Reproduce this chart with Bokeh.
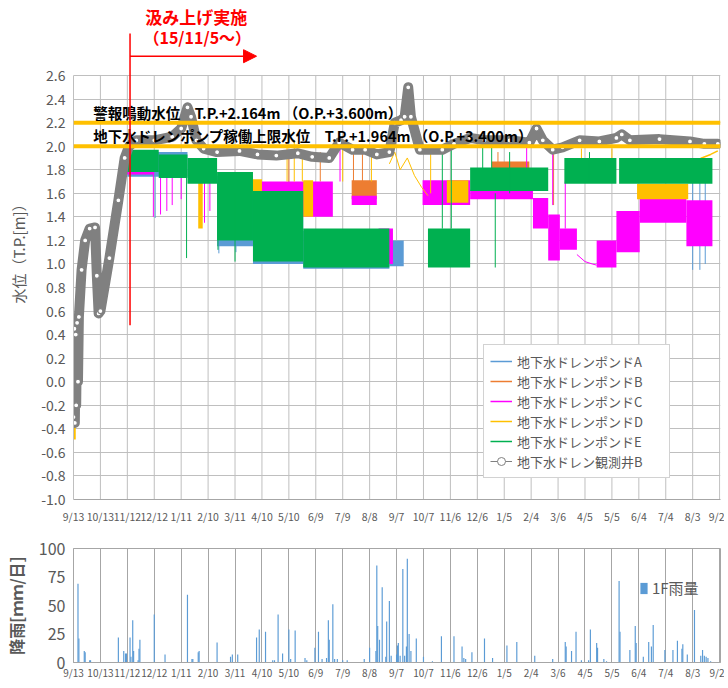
import numpy as np
from bokeh.plotting import figure
from bokeh.models import (Range1d, FixedTicker, Span, Legend, LegendItem, Arrow,
                          NormalHead, PrintfTickFormatter, Label)
from bokeh.layouts import column
from bokeh.embed import file_html
from bokeh.resources import INLINE

# ---------------- data ----------------
tick_days = list(range(0, 721, 30))
tick_labels = ["9/13", "10/13", "11/12", "12/12", "1/11", "2/10", "3/11", "4/10", "5/10",
               "6/9", "7/9", "8/8", "9/7", "10/7", "11/6", "12/6", "1/5", "2/4", "3/6",
               "4/5", "5/5", "6/4", "7/4", "8/3", "9/2"]
y_ticks = [-1.0, -0.8, -0.6, -0.4, -0.2, 0.0, 0.2, 0.4, 0.6, 0.8, 1.0, 1.2, 1.4, 1.6,
           1.8, 2.0, 2.2, 2.4, 2.6]
rain_ticks = [0, 25, 50, 75, 100]

series_names = ["地下水ドレンポンドA", "地下水ドレンポンドB", "地下水ドレンポンドC",
                "地下水ドレンポンドD", "地下水ドレンポンドE"]
well_name = "地下水ドレン観測井B"

# observation well B (days since 2015/9/13, T.P. m)
well_day = [0, 1, 1.5, 2.5, 3, 4, 5, 6, 9, 13,
            18, 24, 26, 28, 30, 40, 50, 57, 62, 70,
            90, 110, 120, 127, 131, 137, 145, 160, 185, 205,
            226, 250, 266, 285, 296, 311, 325, 338, 352, 358,
            365, 369, 373, 376, 386, 411, 424, 442, 458, 486,
            508, 516, 523, 534, 545, 564, 586, 605, 611, 620,
            653, 687, 703, 718]
well_val = [-0.3, 0.45, -0.35, 0.4, -0.2, 0.5, 0.0, 0.55, 0.95, 1.2,
            1.3, 1.31, 0.9, 0.58, 0.6, 1.05, 1.54, 1.9, 2.0, 2.05,
            2.05, 2.08, 2.15, 2.33, 2.25, 2.05, 1.98, 1.95, 1.96, 1.93,
            1.92, 1.94, 1.91, 1.9, 2.03, 1.97, 1.97, 1.93, 1.95, 2.2,
            2.22, 2.25, 2.5, 2.25, 1.97, 1.97, 2.02, 2.07, 2.05, 2.05,
            2.03, 2.15, 2.05, 1.97, 1.99, 2.05, 2.04, 2.07, 2.1, 2.05,
            2.06, 2.04, 2.02, 2.02]

# pump level bands (start day, end day, low, high)
A_start = [60, 160, 200, 256, 352]
A_end = [127, 200, 256, 352, 368]
A_low = [1.74, 1.15, 1.0, 0.96, 0.98]
A_high = [1.95, 1.75, 1.6, 1.28, 1.2]

B_start = [310, 466]
B_end = [338, 508]
B_low = [1.55, 1.77]
B_high = [1.71, 1.87]

C_start = [55, 208, 310, 340, 389, 442, 512, 529, 542, 583, 605, 631, 683]
C_end = [90, 289, 338, 356, 442, 512, 529, 542, 561, 605, 631, 683, 712]
C_low = [1.76, 1.4, 1.5, 1.0, 1.5, 1.55, 1.3, 1.03, 1.12, 0.97, 1.1, 1.35, 1.15]
C_high = [1.86, 1.7, 1.58, 1.3, 1.71, 1.63, 1.56, 1.42, 1.3, 1.2, 1.45, 1.57, 1.54]

D_start = [0, 139, 193, 256, 416, 628]
D_end = [2.5, 144, 210, 267, 440, 685]
D_low = [-0.49, 1.3, 1.6, 1.4, 1.52, 1.55]
D_high = [-0.3, 1.7, 1.72, 1.71, 1.71, 1.68]

E_start = [60, 95, 127, 160, 200, 256, 395, 442, 547, 608]
E_end = [95, 127, 160, 200, 256, 352, 442, 529, 605, 712]
E_low = [1.78, 1.73, 1.68, 1.2, 1.02, 0.97, 0.97, 1.62, 1.68, 1.68]
E_high = [1.97, 1.93, 1.9, 1.78, 1.62, 1.3, 1.3, 1.82, 1.9, 1.9]

# single readings (spikes)
A_spk_day = [91, 162, 181, 690, 698, 704]
A_spk_lo = [1.39, 1.09, 1.1, 0.95, 0.95, 1.0]
A_spk_hi = [1.8, 1.5, 1.5, 1.7, 1.7, 1.8]
B_spk_day = [240, 275, 312, 322, 473, 535]
B_spk_lo = [1.6, 1.7, 1.7, 1.7, 1.6, 1.5]
B_spk_hi = [1.95, 1.95, 1.98, 1.95, 1.95, 1.95]
C_spk_day = [89, 97, 104, 110, 120, 146, 152, 297, 505, 534, 548]
C_spk_lo = [1.4, 1.42, 1.45, 1.5, 1.55, 1.35, 1.45, 1.7, 1.6, 1.5, 1.3]
C_spk_hi = [1.85, 1.85, 1.85, 1.85, 1.85, 1.8, 1.8, 2.0, 2.0, 1.95, 1.7]
D_spk_day = [165, 238, 246, 255, 300, 332, 398, 566, 600]
D_spk_lo = [1.25, 1.7, 1.7, 1.7, 1.7, 1.7, 1.6, 1.7, 1.7]
D_spk_hi = [1.7, 2.0, 2.05, 1.95, 2.0, 1.95, 2.0, 1.98, 1.98]
E_spk_day = [126, 161, 180, 411, 421, 456, 466, 470, 486, 575]
E_spk_lo = [1.05, 1.12, 1.02, 1.3, 1.3, 1.8, 1.8, 0.97, 1.6, 1.7]
E_spk_hi = [1.85, 1.7, 1.6, 2.0, 2.0, 2.0, 2.0, 1.6, 1.95, 1.95]

# thin traces
C_line_day = [561, 570, 578, 583]
C_line_val = [1.08, 1.02, 1.0, 0.99]
D_line1_day = [352, 358, 364, 372, 380, 388, 395]
D_line1_val = [1.85, 1.95, 1.8, 1.9, 1.75, 1.65, 1.58]
D_line2_day = [690, 700, 710, 718]
D_line2_val = [1.85, 1.9, 1.93, 1.96]

thresholds = [2.2, 2.0]
pump_start_day = 63

# daily rainfall 1F (mm/day)
rain_day = [5, 6, 12, 13, 18, 19, 50, 56, 58, 59,
            63, 64, 66, 67, 72, 73, 74, 90, 102, 127,
            132, 133, 139, 140, 160, 175, 177, 183, 204, 207,
            214, 222, 224, 228, 233, 240, 242, 247, 258, 260,
            269, 273, 277, 282, 284, 285, 289, 291, 294, 300,
            305, 324, 330, 337, 338, 339, 341, 344, 348, 349,
            352, 354, 360, 361, 362, 364, 367, 369, 371, 372,
            374, 376, 382, 390, 400, 410, 424, 433, 435, 437,
            444, 458, 467, 483, 494, 514, 534, 548, 549, 555,
            560, 566, 574, 576, 583, 584, 591, 594, 608, 609,
            620, 626, 627, 635, 641, 644, 646, 659, 668, 673,
            678, 679, 684, 692, 699, 701, 703, 705, 707, 710]
rain_mm = [69, 21, 10, 9, 2, 2, 22, 10, 8, 8,
           22, 5, 37, 10, 2, 12, 20, 42, 7, 59.5,
           3, 3, 9, 10, 17.5, 5, 7, 7, 22, 29,
           27, 2, 2, 42, 8, 29, 3, 28, 4, 2,
           13, 27, 3, 4, 37, 20, 51, 3, 3, 2,
           2, 3, 13, 10, 85, 32, 20, 66, 5, 36,
           54, 6, 7, 15, 17, 6, 82, 6, 14, 91,
           25, 10, 21, 5, 1, 23, 23, 14, 4, 3,
           9, 21, 4, 15, 18, 6, 3, 18, 14, 10,
           27, 2, 2, 29, 17, 13, 3, 1, 71.5, 27,
           11, 32, 17, 5, 18, 14, 33, 11, 11, 19,
           12, 16, 7, 46, 6, 11, 6, 5, 4, 1]

# ---------------- styles ----------------
JP = "Noto Sans CJK JP"
TXT = "#595959"
GRID = "#BFBFBF"
AX = "#A6A6A6"
colors = ["#5B9BD5", "#ED7D31", "#FF00FF", "#FFC000", "#00B050"]
GRAY = "#808080"

# ---------------- main chart ----------------
p = figure(width=724, height=526, x_range=Range1d(0, 721), y_range=Range1d(-1.0, 3.237),
           output_backend="svg", toolbar_location=None,
           min_border_left=73, min_border_right=4, min_border_top=0, min_border_bottom=26)
p.outline_line_color = None
p.background_fill_color = "white"
p.border_fill_color = "white"

p.yaxis.ticker = FixedTicker(ticks=y_ticks)
p.yaxis.bounds = (-1.0, 2.6)
p.yaxis.formatter = PrintfTickFormatter(format="%.1f")
p.yaxis.major_label_text_font = JP
p.yaxis.major_label_text_font_size = "14px"
p.yaxis.major_label_text_color = TXT
p.yaxis.major_tick_line_color = None
p.yaxis.major_tick_out = 0
p.yaxis.major_tick_in = 0
p.yaxis.minor_tick_line_color = None
p.yaxis.minor_tick_out = 0
p.yaxis.major_label_standoff = 8
p.yaxis.axis_line_color = GRID
p.yaxis.axis_label = "水位（T.P.[m]）"
p.yaxis.axis_label_text_font = JP
p.yaxis.axis_label_text_font_style = "normal"
p.yaxis.axis_label_text_font_size = "15px"
p.yaxis.axis_label_text_color = TXT
p.yaxis.axis_label_standoff = 9

p.xaxis.ticker = FixedTicker(ticks=tick_days)
p.xaxis.major_label_overrides = {d: l for d, l in zip(tick_days, tick_labels)}
p.xaxis.major_label_text_font = JP
p.xaxis.major_label_text_font_size = "10.5px"
p.xaxis.major_label_text_color = TXT
p.xaxis.major_tick_line_color = None
p.xaxis.major_tick_out = 0
p.xaxis.major_tick_in = 0
p.xaxis.minor_tick_line_color = None
p.xaxis.minor_tick_out = 0
p.xaxis.major_label_standoff = 9
p.xaxis.axis_line_color = AX

p.ygrid.ticker = FixedTicker(ticks=y_ticks)
p.ygrid.grid_line_color = GRID
p.xgrid.visible = False
p.segment(x0=tick_days, y0=[y_ticks[0]] * len(tick_days), x1=tick_days,
          y1=[y_ticks[-1]] * len(tick_days), line_color=GRID, line_width=1)

bands = [(A_start, A_end, A_low, A_high), (B_start, B_end, B_low, B_high),
         (C_start, C_end, C_low, C_high), (D_start, D_end, D_low, D_high),
         (E_start, E_end, E_low, E_high)]
spikes = [(A_spk_day, A_spk_lo, A_spk_hi), (B_spk_day, B_spk_lo, B_spk_hi),
          (C_spk_day, C_spk_lo, C_spk_hi), (D_spk_day, D_spk_lo, D_spk_hi),
          (E_spk_day, E_spk_lo, E_spk_hi)]

for i, col in enumerate(colors):
    s, e, lo, hi = bands[i]
    p.quad(left=s, right=e, bottom=lo, top=hi, fill_color=col, line_color=None)
    sd, sl, sh = spikes[i]
    p.segment(x0=sd, y0=sl, x1=sd, y1=sh, line_color=col, line_width=1)
    if i == 2:
        p.line(C_line_day, C_line_val, line_color=col, line_width=1)
    if i == 3:
        p.line(D_line1_day, D_line1_val, line_color=col, line_width=1)
        p.line(D_line2_day, D_line2_val, line_color=col, line_width=1.5)

p.line(well_day, well_val, line_color=GRAY, line_width=10, line_join="round", line_cap="round")
p.scatter(well_day, well_val, marker="circle", size=5, fill_color="white",
          line_color=GRAY, line_width=1.2)

for t in thresholds:
    p.add_layout(Span(location=t, dimension="width", line_color="#FFC000", line_width=4))

p.add_layout(Label(x=22, y=2.286, text="警報鳴動水位　T.P.+2.164m （O.P.+3.600m）",
                   text_font=JP, text_font_style="bold", text_font_size="14.5px",
                   text_color="black", text_baseline="middle"))
p.add_layout(Label(x=22, y=2.092, text="地下水ドレンポンプ稼働上限水位　T.P.+1.964m （O.P.+3.400m）",
                   text_font=JP, text_font_style="bold", text_font_size="14.5px",
                   text_color="black", text_baseline="middle"))

# pumping start annotation
p.add_layout(Arrow(end=None, x_start=pump_start_day, y_start=0.48, x_end=pump_start_day,
                   y_end=2.956, line_color="red", line_width=1.5))
p.add_layout(Arrow(end=NormalHead(size=13, fill_color="red", line_color="red"),
                   x_start=pump_start_day, y_start=2.764, x_end=204, y_end=2.764,
                   line_color="red", line_width=1.5))
p.add_layout(Label(x=80, y=3.1, text="汲み上げ実施", text_font=JP, text_font_style="bold",
                   text_font_size="17px", text_color="red", text_baseline="middle"))
p.add_layout(Label(x=78, y=2.926, text="（15/11/5～）", text_font=JP, text_font_style="bold",
                   text_font_size="16px", text_color="red", text_baseline="middle"))

# legend (sample glyphs only)
items = []
for name, col in zip(series_names, colors):
    r = p.line(x=[np.nan], y=[np.nan], line_color=col, line_width=1.5)
    items.append(LegendItem(label=name, renderers=[r]))
rl = p.line(x=[np.nan], y=[np.nan], line_color=GRAY, line_width=1)
rs = p.scatter(x=[np.nan], y=[np.nan], marker="circle", size=6, fill_color="white",
               line_color=GRAY)
items.append(LegendItem(label=well_name, renderers=[rl, rs]))
leg = Legend(items=items, location=(410, 21), padding=6, margin=0, spacing=0,
             label_height=20, glyph_height=20, glyph_width=22, label_standoff=5,
             label_width=146, label_text_font=JP, label_text_font_size="13px",
             label_text_color=TXT, border_line_color=AX, background_fill_alpha=1.0)
p.add_layout(leg)

# ---------------- rainfall chart ----------------
q = figure(width=724, height=156, x_range=Range1d(0, 721), y_range=Range1d(0, 100),
           output_backend="svg", toolbar_location=None,
           min_border_left=73, min_border_right=4, min_border_top=22, min_border_bottom=18)
q.outline_line_color = AX
q.background_fill_color = "white"
q.border_fill_color = "white"
q.vbar(x=rain_day, top=rain_mm, width=1.3, fill_color="#5B9BD5", line_color=None)

q.yaxis.ticker = FixedTicker(ticks=rain_ticks)
q.yaxis.major_label_text_font = JP
q.yaxis.major_label_text_font_size = "16px"
q.yaxis.major_label_text_color = TXT
q.yaxis.major_tick_line_color = None
q.yaxis.major_tick_out = 0
q.yaxis.major_tick_in = 0
q.yaxis.minor_tick_line_color = None
q.yaxis.minor_tick_out = 0
q.yaxis.major_label_standoff = 8
q.yaxis.axis_line_color = AX
q.yaxis.axis_label = "降雨[ｍｍ/日]"
q.yaxis.axis_label_text_font = JP
q.yaxis.axis_label_text_font_style = "bold"
q.yaxis.axis_label_text_font_size = "16px"
q.yaxis.axis_label_text_color = TXT
q.yaxis.axis_label_standoff = 8

q.xaxis.ticker = FixedTicker(ticks=tick_days)
q.xaxis.major_label_overrides = {d: l for d, l in zip(tick_days, tick_labels)}
q.xaxis.major_label_text_font = JP
q.xaxis.major_label_text_font_size = "10px"
q.xaxis.major_label_text_color = TXT
q.xaxis.major_tick_line_color = None
q.xaxis.major_tick_out = 0
q.xaxis.major_tick_in = 0
q.xaxis.minor_tick_line_color = None
q.xaxis.minor_tick_out = 0
q.xaxis.major_label_standoff = 2
q.xaxis.axis_line_color = AX
q.xgrid.ticker = FixedTicker(ticks=tick_days)
q.xgrid.grid_line_color = "#A6A6A6"
q.ygrid.visible = False

rr = q.vbar(x=[np.nan], top=[np.nan], width=1, fill_color="#5B9BD5", line_color=None)
leg2 = Legend(items=[LegendItem(label="1F雨量", renderers=[rr])], location=(566, 64),
              padding=0, margin=0, glyph_width=9, glyph_height=14, label_standoff=4,
              label_text_font=JP, label_text_font_size="15px", label_text_color=TXT,
              border_line_color=None, background_fill_alpha=0)
q.add_layout(leg2)

layout = column(p, q, spacing=0)
open("out.html", "w").write(file_html(layout, INLINE))
